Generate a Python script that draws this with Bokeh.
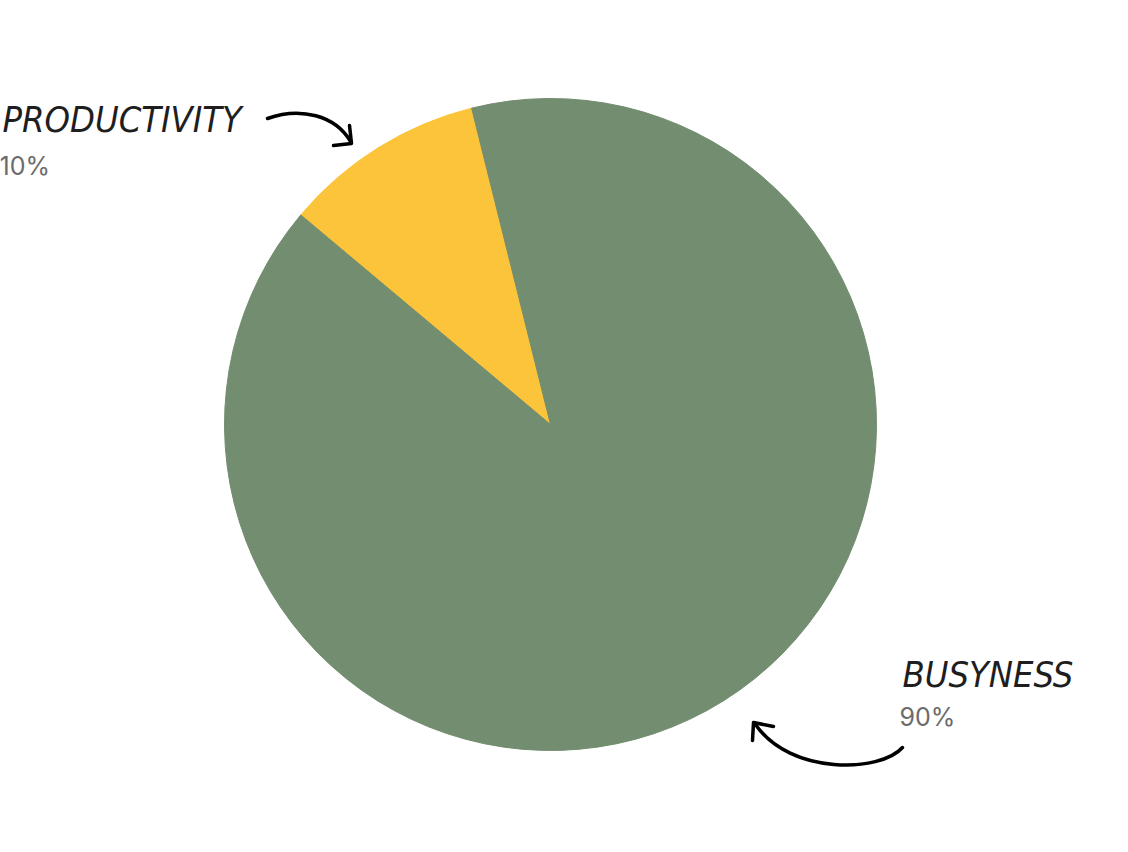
from bokeh.plotting import figure
from bokeh.models import Range1d, ColumnDataSource
from bokeh.core.properties import value
from bokeh.embed import file_html
from bokeh.resources import INLINE
import math

categories = ["Productivity", "Busyness"]
shares = [10, 90]
labels = ["PRODUCTIVITY", "BUSYNESS"]
pct_labels = ["10%", "90%"]
colors = ["#fcc43a", "#728d6f"]

W, H = 1128, 852
p = figure(width=W, height=H, output_backend="svg", toolbar_location=None,
           x_range=Range1d(0, W), y_range=Range1d(0, H), min_border=0)
p.axis.visible = False
p.grid.visible = False
p.outline_line_color = None
p.background_fill_color = "white"
p.border_fill_color = "white"

cx, cy, r = 550, H - 424, 326
start0 = math.radians(104)
total = sum(shares)
starts, ends = [], []
a = start0
for s in shares:
    starts.append(a)
    a += 2 * math.pi * s / total
    ends.append(a)
src = ColumnDataSource(dict(cat=categories, share=shares, start=starts, end=ends, color=colors))
p.wedge(x=cx, y=cy, radius=r, radius_units="screen", start_angle="start", end_angle="end",
        fill_color="color", line_color="color", line_width=1, source=src)

# labels
hand = value("DejaVu Sans Condensed")
p.text(x=[2], y=[H - 119], text=[labels[0]], text_font=hand, text_font_size="36px",
       text_font_style="italic", text_color="#1e1e1e", text_baseline="alphabetic")
p.text(x=[-1], y=[H - 165], text=[pct_labels[0]], text_font=value("Inter"), text_font_size="25px",
       text_color="#6b6b6b", text_baseline="alphabetic")
p.text(x=[902], y=[H - 674], text=[labels[1]], text_font=hand, text_font_size="36px",
       text_font_style="italic", text_color="#1e1e1e", text_baseline="alphabetic")
p.text(x=[899], y=[H - 716], text=[pct_labels[1]], text_font=value("Inter"), text_font_size="25px",
       text_color="#6b6b6b", text_baseline="alphabetic")

# arrows
p.bezier(x0=[267], y0=[H - 118], x1=[350], y1=[H - 141], cx0=[300], cy0=[H - 106],
         cx1=[335], cy1=[H - 115], line_color="black", line_width=3.5, line_cap="round")
p.multi_line(xs=[[349, 351, 333]], ys=[[H - 125, H - 143, H - 145]], line_color="black",
             line_width=3.5, line_cap="round", line_join="round")
p.bezier(x0=[902], y0=[H - 747], x1=[755], y1=[H - 724], cx0=[880], cy0=[H - 772],
         cx1=[790], cy1=[H - 775], line_color="black", line_width=3.5, line_cap="round")
p.multi_line(xs=[[773, 753, 752]], ys=[[H - 726, H - 722, H - 740]], line_color="black",
             line_width=3.5, line_cap="round", line_join="round")

open("out.html", "w").write(file_html(p, INLINE))
